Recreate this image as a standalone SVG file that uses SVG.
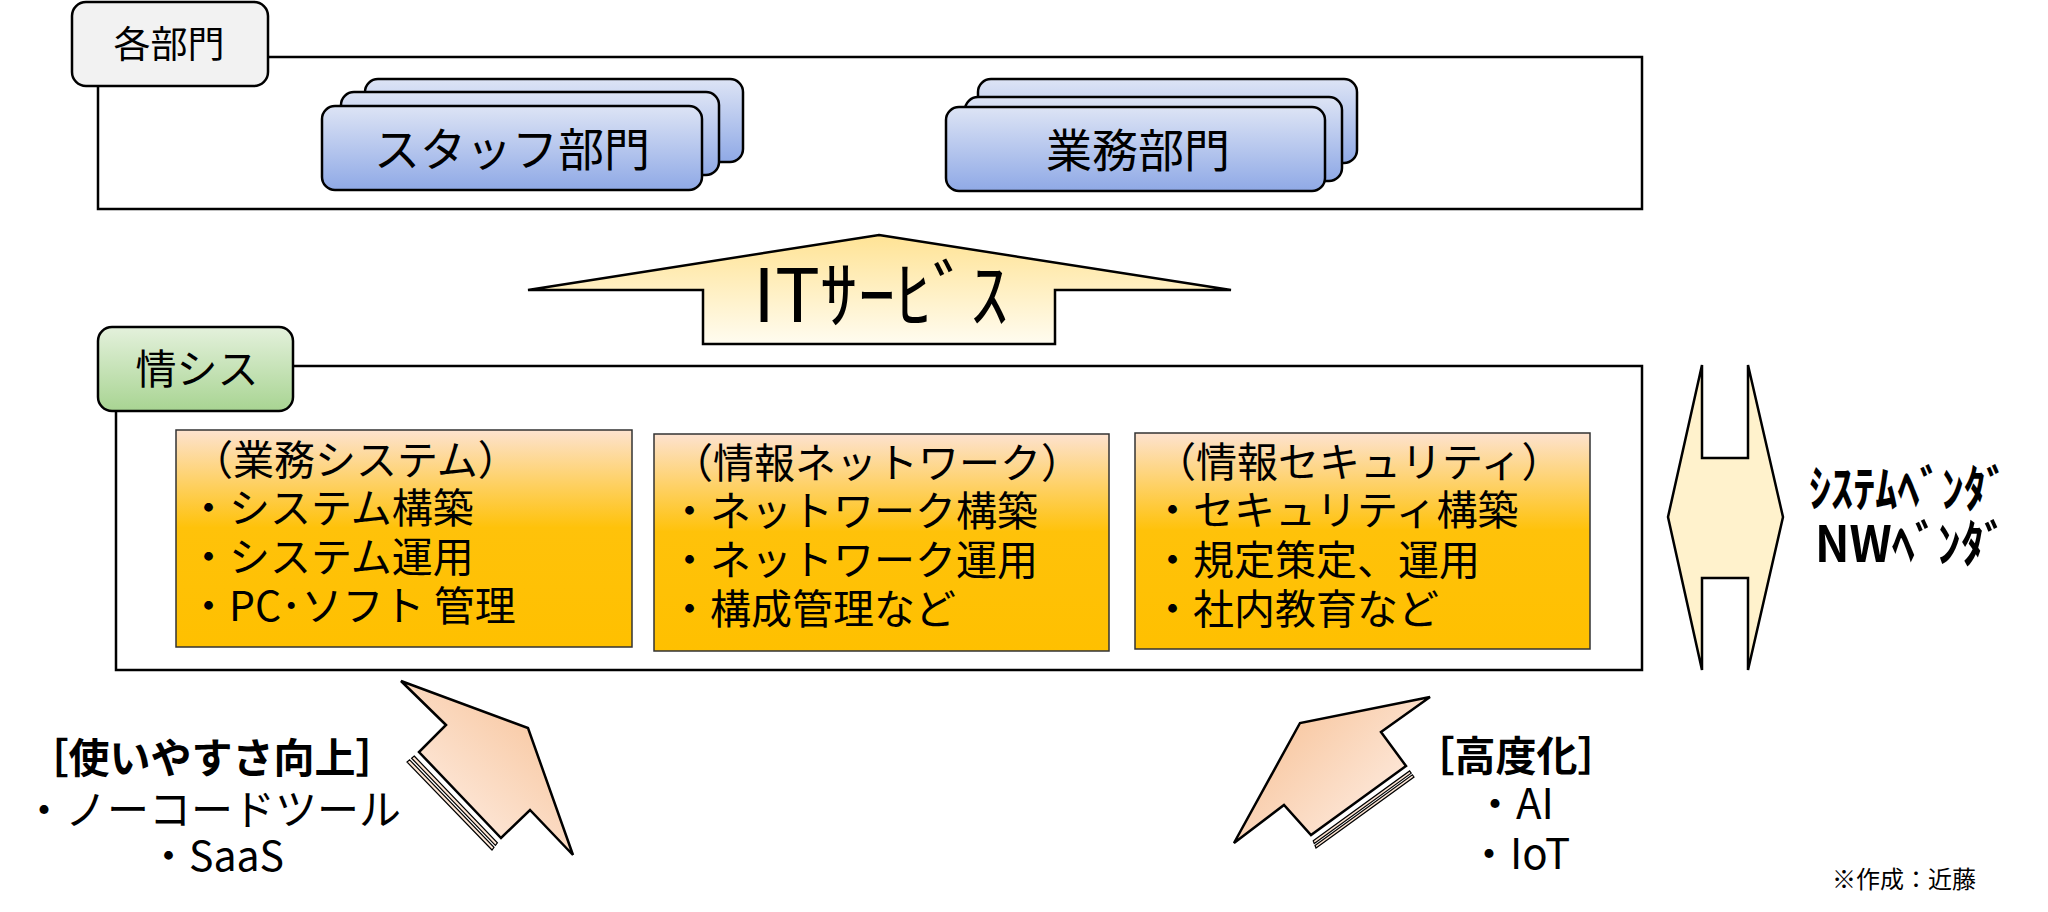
<svg xmlns="http://www.w3.org/2000/svg" width="2048" height="912" viewBox="0 0 2048 912">
<defs>
<style>
.t{font-family:"Noto Sans CJK JP","Noto Sans",sans-serif;fill:#000}
.frame{fill:#fff;stroke:#000;stroke-width:2.5}
.card{fill:url(#gBlue);stroke:#000;stroke-width:2.5}
.orange{fill:url(#gOrange);stroke:#333;stroke-width:1.5}
.stripe{stroke:#000;stroke-width:1.2}
.arr{stroke:#000;stroke-width:2.5;stroke-linejoin:miter}
</style>
<linearGradient id="gBlue" x1="0" y1="0" x2="0" y2="1">
<stop offset="0" stop-color="#dde4f5"/><stop offset="1" stop-color="#8fa9e6"/>
</linearGradient>
<linearGradient id="gGreen" x1="0" y1="0" x2="0" y2="1">
<stop offset="0" stop-color="#e4f1dc"/><stop offset="1" stop-color="#a8d492"/>
</linearGradient>
<linearGradient id="gOrange" x1="0" y1="0" x2="0" y2="1">
<stop offset="0" stop-color="#fde2cf"/><stop offset="0.45" stop-color="#ffc20a"/><stop offset="1" stop-color="#ffc000"/>
</linearGradient>
<linearGradient id="gYellow" x1="0" y1="0" x2="0" y2="1">
<stop offset="0" stop-color="#ffe395"/><stop offset="1" stop-color="#fffcf0"/>
</linearGradient>
<linearGradient id="gPeachL" gradientUnits="userSpaceOnUse" x1="430" y1="840" x2="545" y2="715">
<stop offset="0" stop-color="#feeee4"/><stop offset="1" stop-color="#f8c8a2"/>
</linearGradient>
<linearGradient id="gPeachR" gradientUnits="userSpaceOnUse" x1="1400" y1="830" x2="1285" y2="720">
<stop offset="0" stop-color="#feeee4"/><stop offset="1" stop-color="#f8c8a2"/>
</linearGradient>
</defs>
<rect width="2048" height="912" fill="#fff"/>

<g id="frame-kakubumon">
<rect class="frame" x="98" y="57" width="1544" height="152"/>
</g>
<g id="tab-kakubumon">
<rect x="72" y="2" width="196" height="84" rx="14" fill="#f2f2f2" stroke="#000" stroke-width="2.5"/>
<text class="t" x="169" y="58" font-size="37" text-anchor="middle">各部門</text>
</g>

<g id="node-staff">
<rect class="card" x="365" y="79" width="378" height="83" rx="13"/>
<rect class="card" x="341" y="92" width="378" height="83" rx="13"/>
<rect class="card" x="322" y="106" width="380" height="84" rx="13"/>
<text class="t" x="512" y="166" font-size="46" text-anchor="middle">スタッフ部門</text>
</g>

<g id="node-gyomu">
<rect class="card" x="978" y="79" width="379" height="84" rx="13"/>
<rect class="card" x="965" y="97" width="377" height="84" rx="13"/>
<rect class="card" x="946" y="107" width="379" height="84" rx="13"/>
<text class="t" x="1138" y="167" font-size="46" text-anchor="middle">業務部門</text>
</g>

<g id="frame-joshisu">
<rect class="frame" x="116" y="366" width="1526" height="304"/>
</g>
<g id="tab-joshisu">
<rect x="98" y="327" width="195" height="84" rx="14" fill="url(#gGreen)" stroke="#000" stroke-width="2.5"/>
<text class="t" x="197" y="384" font-size="41" text-anchor="middle">情シス</text>
</g>

<g id="node-system">
<rect class="orange" x="176" y="430" width="456" height="217"/>
<text class="t" font-size="41">
<tspan x="192" y="475">（業務システム）</tspan>
<tspan x="188" y="523">・システム構築</tspan>
<tspan x="188" y="572">・システム運用</tspan>
<tspan x="188" y="621">・PC･ソフト 管理</tspan>
</text>
</g>

<g id="node-network">
<rect class="orange" x="654" y="434" width="455" height="217"/>
<text class="t" font-size="41">
<tspan x="672" y="478">（情報ネットワーク）</tspan>
<tspan x="669" y="526">・ネットワーク構築</tspan>
<tspan x="669" y="575">・ネットワーク運用</tspan>
<tspan x="669" y="624">・構成管理など</tspan>
</text>
</g>

<g id="node-security">
<rect class="orange" x="1135" y="433" width="455" height="216"/>
<text class="t" font-size="41">
<tspan x="1155" y="477">（情報セキュリティ）</tspan>
<tspan x="1152" y="525">・セキュリティ構築</tspan>
<tspan x="1152" y="575">・規定策定、運用</tspan>
<tspan x="1152" y="624">・社内教育など</tspan>
</text>
</g>

<g id="connectors">
<g id="arrow-itservice">
<polygon class="arr" fill="url(#gYellow)" points="879,235 1231,290 1055,290 1055,344 703,344 703,290 528,290"/>
<text class="t" x="753" y="322" font-size="74" textLength="255" lengthAdjust="spacingAndGlyphs">ITｻｰﾋﾞｽ</text>
</g>
<g id="arrow-vendor">
<polygon class="arr" fill="#fff2cc" points="1702,365 1702,458 1748,458 1748,365 1783,517 1748,670 1748,578 1702,578 1702,670 1668,517"/>
</g>
<g id="arrow-usability">
<polygon class="arr" fill="url(#gPeachL)" points="446,725 401,681 528,728 573,855 530,810 501,838 419,752"/>
<polygon class="stripe" fill="url(#gPeachL)" points="414.2,756 497.4,842.8 495.4,845.4 411.6,758.2"/>
<polygon class="stripe" fill="url(#gPeachL)" points="409.6,759.8 494,847.4 492,850 407,762"/>
</g>
<g id="arrow-advance">
<polygon class="arr" fill="url(#gPeachR)" points="1381,732 1430,697 1300,723 1234,843 1284,805 1311,835 1406,766"/>
<polygon class="stripe" fill="url(#gPeachR)" points="1313.25,840.85 1409.6,770.95 1411.2,773.15 1314.25,843.45"/>
<polygon class="stripe" fill="url(#gPeachR)" points="1315,845.4 1412.4,774.8 1414,777 1316,848"/>
</g>
</g>

<g id="label-vendor">
<text class="t" x="1809" y="507" font-size="50" font-weight="bold" textLength="199" lengthAdjust="spacingAndGlyphs">ｼｽﾃﾑﾍﾞﾝﾀﾞ</text>
<text class="t" x="1815" y="562" font-size="50" font-weight="bold" textLength="192" lengthAdjust="spacingAndGlyphs">NWﾍﾞﾝﾀﾞ</text>
</g>

<g id="label-usability">
<text class="t" x="212" y="773" font-size="41" font-weight="bold" text-anchor="middle">［使いやすさ向上］</text>
<text class="t" x="212" y="825" font-size="42" text-anchor="middle">・ノーコードツール</text>
<text class="t" x="216" y="871" font-size="41" text-anchor="middle">・SaaS</text>
</g>

<g id="label-advance">
<text class="t" x="1516" y="771" font-size="41" font-weight="bold" text-anchor="middle">［高度化］</text>
<text class="t" x="1514" y="819" font-size="42" text-anchor="middle">・AI</text>
<text class="t" x="1519" y="869" font-size="42" text-anchor="middle">・IoT</text>
</g>

<g id="credit">
<text class="t" x="1832" y="888" font-size="24">※作成：近藤</text>
</g>
</svg>
